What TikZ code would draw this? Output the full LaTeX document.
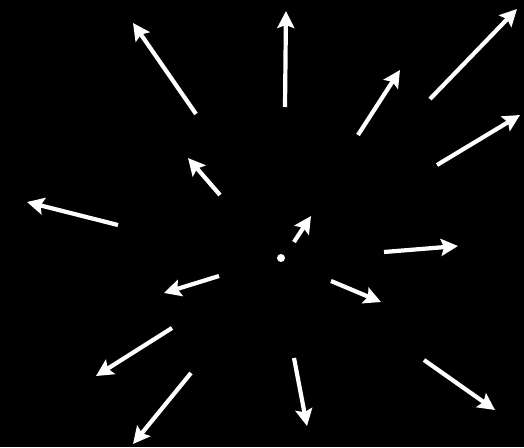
\documentclass[tikz,border=0pt]{standalone}
\usetikzlibrary{arrows.meta}

\begin{document}
\begin{tikzpicture}[x=1pt, y=-1pt,
          arr/.style={-{Stealth[length=17pt, width=17pt, inset=3pt]}, line width=4.2pt, white},
          dot/.style={circle, fill=white, inner sep=0pt, minimum size=8pt}]
        \fill[black] (0,0) rectangle (524,447);
        \useasboundingbox (0,0) rectangle (524,447);
        \node[dot] (c) at (281,258) {};
        % tail x/y, head x/y
        \foreach \i/\tx/\ty/\hx/\hy in {
            1/196/114/133/23, 2/220/195/188/158, 3/118/225/27/202,
            4/285/107/286/11, 5/358/135/400/70, 6/430/99/517/9,
            7/437/165/520/115, 8/294/242/311/216, 9/384/252/458/246,
            10/331/281/381/302, 11/294/358/307/426, 12/424/360/495/410,
            13/219/276/164/293, 14/172/328/96/376, 15/191/373/133/444} {
          \coordinate (t\i) at (\tx,\ty);
          \coordinate (h\i) at (\hx,\hy);
          \draw[arr] (t\i) -- (h\i);
        }
      \end{tikzpicture}
\end{document}
